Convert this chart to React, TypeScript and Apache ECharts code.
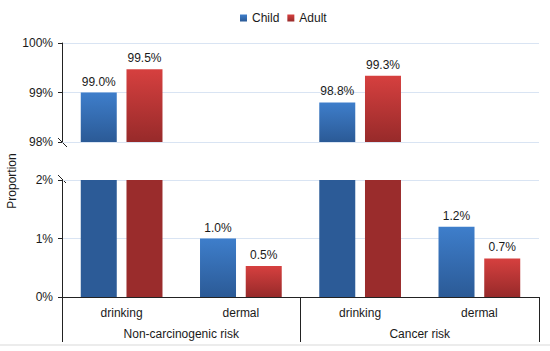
import React, { useEffect, useRef } from "react";
import * as echarts from "echarts";

const categories = ["drinking", "dermal", "drinking", "dermal"];
const groups = ["Non-carcinogenic risk", "Cancer risk"];
const seriesNames = ["Child", "Adult"];
const childValues = [99.0, 1.0, 98.8, 1.2];
const adultValues = [99.47, 0.53, 99.34, 0.66];
const upperRange = [98, 100];
const lowerRange = [0, 2];

const FONT = "Liberation Sans, Arial, sans-serif";

const grad = (top: string, bottom: string) =>
  new echarts.graphic.LinearGradient(0, 0, 0, 1, [
    { offset: 0, color: top },
    { offset: 1, color: bottom },
  ]);

const palette = {
  Child: { top: "#3E7ECB", bottom: "#2B5A96", solid: "#2C5B97" },
  Adult: { top: "#D6403F", bottom: "#972A2A", solid: "#9A2C2C" },
};

export default function App() {
  const ref = useRef<HTMLDivElement>(null);
  useEffect(() => {
    if (!ref.current) return;
    const chart = echarts.init(ref.current, null, { renderer: "svg" });
    const labelCfg = {
      show: true,
      position: "top" as const,
      distance: 5,
      fontFamily: FONT,
      fontSize: 12,
      color: "#1a1a1a",
      formatter: (p: any) => Number(p.value).toFixed(1) + "%",
    };
    const makeSeries = (name: string, values: number[]) => {
      const c = (palette as any)[name];
      const upper = values.map((v) => (v > lowerRange[1] ? v : null));
      const lower = values.map((v) =>
        v > lowerRange[1]
          ? { value: v, itemStyle: { color: c.solid }, label: { show: false } }
          : { value: v }
      );
      return [
        {
          name,
          type: "bar",
          xAxisIndex: 0,
          yAxisIndex: 0,
          data: upper,
          barWidth: 36,
          barGap: "27%",
          itemStyle: { color: grad(c.top, c.bottom) },
          label: labelCfg,
        },
        {
          name,
          type: "bar",
          xAxisIndex: 1,
          yAxisIndex: 1,
          data: lower,
          barWidth: 36,
          barGap: "27%",
          clip: true,
          itemStyle: { color: grad(c.top, c.bottom) },
          label: labelCfg,
        },
      ];
    };
    const yCommon = {
      type: "value",
      interval: 1,
      axisLine: { show: true, lineStyle: { color: "#222", width: 1 } },
      axisTick: { show: true, length: 4, lineStyle: { color: "#222" } },
      axisLabel: {
        formatter: "{value}%",
        fontFamily: FONT,
        fontSize: 12,
        color: "#1a1a1a",
        margin: 9,
      },
      splitLine: { show: true, lineStyle: { color: "#d9e4f3", width: 1 } },
    };
    chart.setOption({
      animation: false,
      backgroundColor: "#ffffff",
      legend: {
        data: seriesNames,
        left: 235,
        top: 7,
        icon: "rect",
        itemWidth: 7,
        itemHeight: 7,
        itemGap: 8,
        textStyle: { fontFamily: FONT, fontSize: 12, color: "#1a1a1a" },
      },
      grid: [
        { left: 62, right: 11, top: 43, height: 99 },
        { left: 62, right: 11, top: 180, height: 117 },
      ],
      xAxis: [
        {
          type: "category",
          gridIndex: 0,
          data: categories,
          axisLine: { show: false },
          axisTick: { show: false },
          axisLabel: { show: false },
        },
        {
          type: "category",
          gridIndex: 1,
          data: categories,
          axisLine: { show: true, lineStyle: { color: "#222" } },
          axisTick: { show: false },
          axisLabel: { fontFamily: FONT, fontSize: 12, color: "#1a1a1a", margin: 10 },
        },
        {
          type: "category",
          gridIndex: 1,
          position: "bottom",
          data: groups,
          axisLine: { show: false },
          axisTick: { show: true, length: 45, interval: 0, lineStyle: { color: "#222" } },
          axisLabel: { fontFamily: FONT, fontSize: 12, color: "#1a1a1a", margin: 31, interval: 0 },
        },
      ],
      yAxis: [
        { ...yCommon, gridIndex: 0, min: upperRange[0], max: upperRange[1] },
        { ...yCommon, gridIndex: 1, min: lowerRange[0], max: lowerRange[1] },
      ],
      series: [...makeSeries("Child", childValues), ...makeSeries("Adult", adultValues)],
      graphic: [
        {
          type: "text",
          x: 12,
          y: 181,
          rotation: Math.PI / 2,
          style: {
            text: "Proportion",
            fontFamily: FONT,
            fontSize: 12,
            fill: "#1a1a1a",
            textAlign: "center",
            textVerticalAlign: "middle",
          },
        },
        {
          type: "line",
          shape: { x1: 58, y1: 138, x2: 67, y2: 147 },
          style: { stroke: "#222", lineWidth: 1 },
        },
        {
          type: "line",
          shape: { x1: 58, y1: 175, x2: 66, y2: 183 },
          style: { stroke: "#222", lineWidth: 1 },
        },
        {
          type: "rect",
          shape: { x: 0, y: 344, width: 550, height: 2 },
          style: { fill: "#ececec" },
        },
      ],
    });
    return () => chart.dispose();
  }, []);
  return (
    <div
      ref={ref}
      style={{ position: "fixed", left: 0, top: 0, width: 550, height: 351 }}
    />
  );
}
